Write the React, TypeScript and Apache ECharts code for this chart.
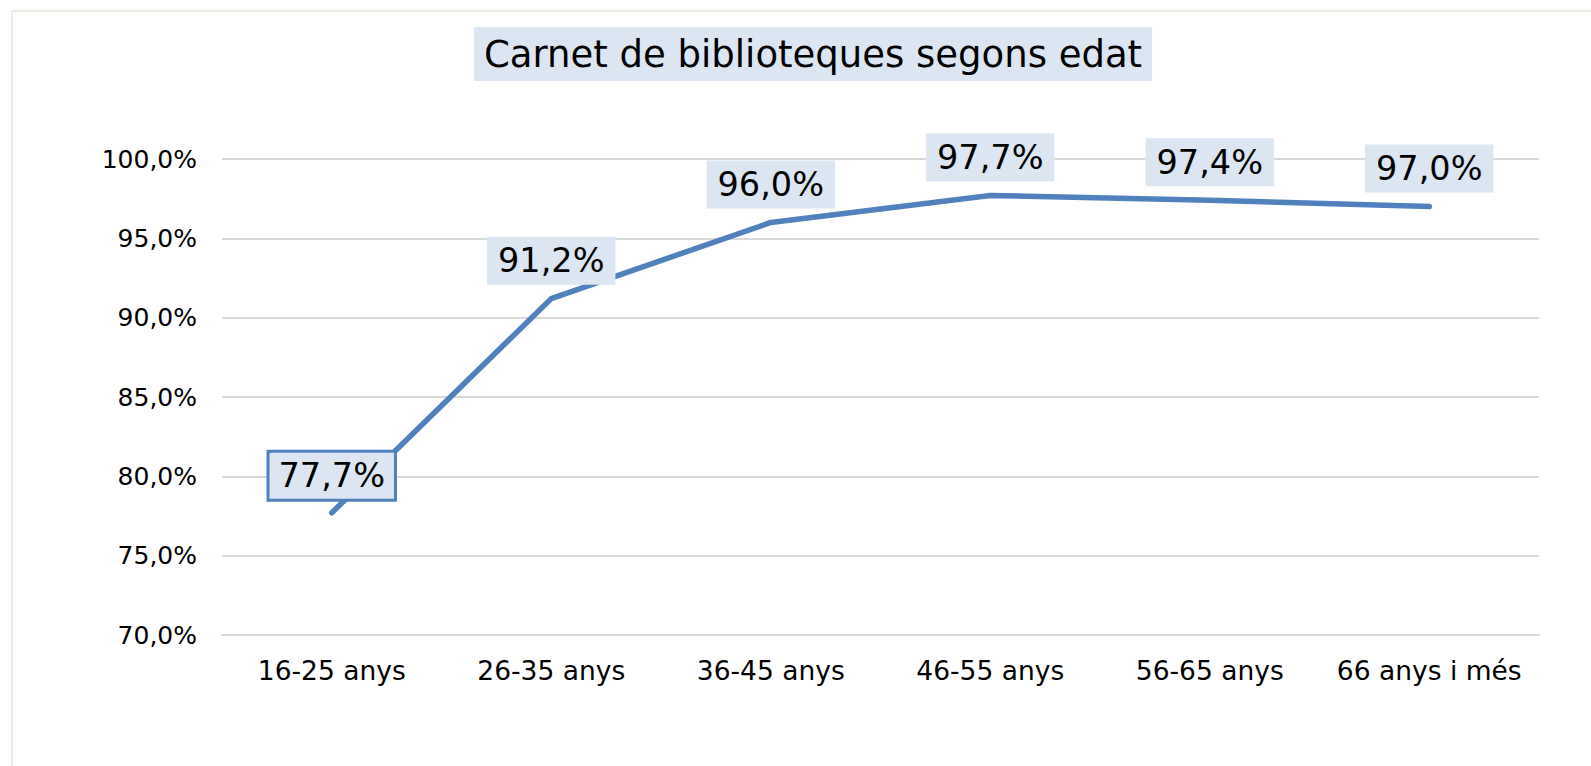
import React, { useEffect, useRef } from "react";
import * as echarts from "echarts";

const categories = ["16-25 anys", "26-35 anys", "36-45 anys", "46-55 anys", "56-65 anys", "66 anys i més"];
const values = [77.7, 91.2, 96.0, 97.7, 97.4, 97.0];
const yTicks = { min: 70, max: 100, interval: 5 };
const titleText = "Carnet de biblioteques segons edat";

const FONT = "DejaVu Sans, Verdana, sans-serif";
const fmt = (v: number) => v.toFixed(1).replace(".", ",") + "%";

export default function App() {
  const ref = useRef<HTMLDivElement>(null);
  useEffect(() => {
    if (!ref.current) return;
    const chart = echarts.init(ref.current, undefined, { renderer: "svg" });
    chart.setOption({
      animation: false,
      backgroundColor: "#ffffff",
      title: {
        text: titleText,
        left: 474,
        top: 27,
        backgroundColor: "#dce6f2",
        padding: [5, 10, 5, 10],
        textStyle: { fontFamily: FONT, fontSize: 37, fontWeight: "normal", color: "#000000", lineHeight: 44 },
      },
      graphic: [
        {
          type: "rect",
          shape: { x: 12, y: 11, width: 1700, height: 900 },
          style: { fill: "none", stroke: "#efebe0", lineWidth: 2 },
          silent: true,
        },
      ],
      grid: { left: 222, right: 52, top: 159, bottom: 131, containLabel: false },
      xAxis: {
        type: "category",
        data: categories,
        boundaryGap: true,
        axisLine: { show: true, lineStyle: { color: "#d9d9d9", width: 2 } },
        axisTick: { show: false },
        axisLabel: { fontFamily: FONT, fontSize: 26.5, color: "#000000", margin: 22, interval: 0 },
      },
      yAxis: {
        type: "value",
        min: yTicks.min,
        max: yTicks.max,
        interval: yTicks.interval,
        axisLine: { show: false },
        axisTick: { show: false },
        splitLine: { lineStyle: { color: "#d9d9d9", width: 2 } },
        axisLabel: { fontFamily: FONT, fontSize: 25, color: "#000000", margin: 25, formatter: (v: number) => fmt(v) },
      },
      series: [
        {
          type: "line",
          data: values.map((v, i) =>
            i === 0
              ? { value: v, label: { borderColor: "#4f81bd", borderWidth: 3, padding: [5, 9, 5, 9] } }
              : v
          ),
          showSymbol: true,
          symbol: "circle",
          symbolSize: 0,
          itemStyle: { color: "#4f81bd" },
          lineStyle: { color: "#4f81bd", width: 5.5, cap: "round", join: "round" },
          label: {
            show: true,
            position: "top",
            distance: 14,
            formatter: (p: any) => fmt(p.value),
            fontFamily: FONT,
            fontSize: 33.5,
            lineHeight: 36,
            color: "#000000",
            backgroundColor: "#dce6f2",
            padding: [6, 11, 6, 11],
          },
        },
      ],
    });
    return () => chart.dispose();
  }, []);
  return (
    <div
      ref={ref}
      style={{ position: "fixed", left: 0, top: 0, width: 1591, height: 766 }}
    />
  );
}
